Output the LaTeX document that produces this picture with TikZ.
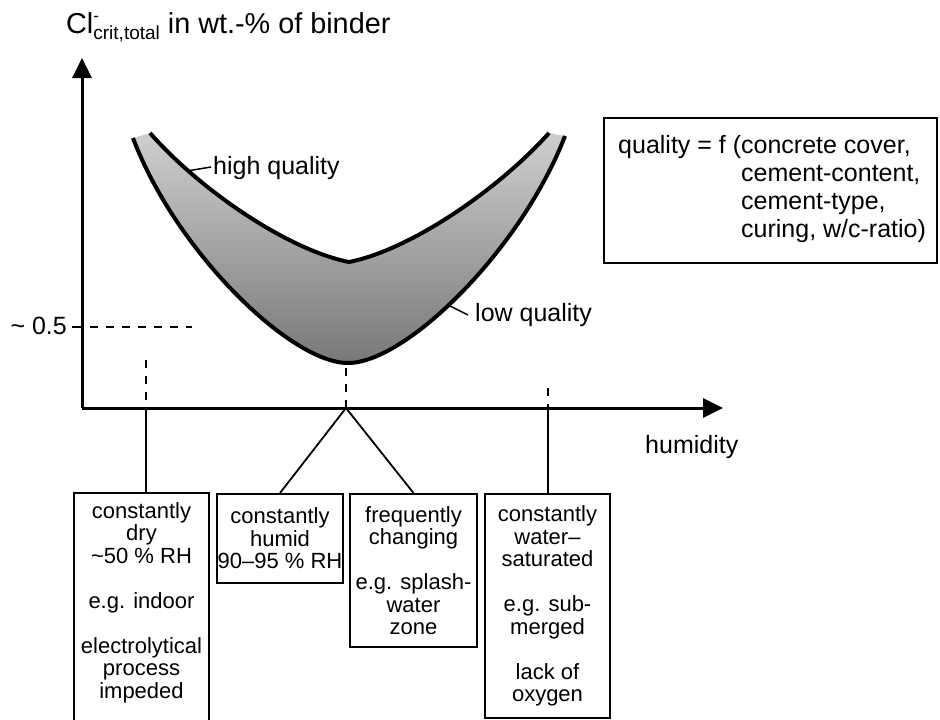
\documentclass[tikz,border=0pt]{standalone}
\usepackage{fontspec}
\setmainfont{Liberation Sans}
\usetikzlibrary{arrows.meta}
\tikzset{
  cbox/.style={draw, line width=1.8pt, align=center, inner xsep=0pt, anchor=north,
    font=\fontsize{22}{22.5}\selectfont},
  axisline/.style={line width=3pt, -{Triangle[length=20pt,width=19pt]}},
  curveline/.style={line width=4pt, line join=round},
  dashline/.style={line width=1.3pt, dash pattern=on 8pt off 8pt},
  conn/.style={line width=1.8pt},
  leader/.style={line width=1.5pt},
  lbl/.style={font=\fontsize{25}{28}\selectfont, inner sep=0pt}
}
\begin{document}
\begin{tikzpicture}[x=1pt,y=-1pt]
\useasboundingbox (0,0) rectangle (940,720);
% axes
\coordinate (O) at (82,408);
\coordinate (ytip) at (82,58);
\coordinate (xtip) at (723,408);
\draw[axisline] (O) -- (ytip);
\draw[axisline] (O) -- (xtip);
% title
\node[anchor=base west, inner sep=0pt, font=\fontsize{28.8}{32}\selectfont] (title) at (66,33)
  {Cl\rlap{\raisebox{12pt}{\fontsize{17}{17}\selectfont -}}\raisebox{-6pt}{\fontsize{19}{19}\selectfont crit,total} in wt.-\% of binder};
\node[lbl, anchor=base west] (hum) at (645,453) {humidity};
% 0.5 level
\coordinate (t05) at (82,327);
\coordinate (t05l) at (72,327);
\coordinate (t05r) at (192,327);
\node[lbl, anchor=base east] (v05) at (67,334) {\textasciitilde{} 0.5};
\draw[line width=1.3pt] (t05l) -- (t05);
\draw[dashline] ([xshift=8pt]t05) -- (t05r);
% band
\shade[top color=gray!38, bottom color=black!53]
  (133,138) .. controls (175,250) and (290,363) .. (348,363)
  .. controls (406,363) and (521,250) .. (565,136)
  -- (549,133) .. controls (498,190) and (410,250) .. (349,262)
  .. controls (288,250) and (200,190) .. (150,133) -- cycle;
\draw[curveline] (133,138) .. controls (175,250) and (290,363) .. (348,363)
  .. controls (406,363) and (521,250) .. (565,136);
\draw[curveline] (150,133) .. controls (200,190) and (288,250) .. (349,262)
  .. controls (410,250) and (498,190) .. (549,133);
% curve labels
\coordinate (hq) at (187,171);
\node[lbl, anchor=base west] (hql) at (213,174) {high quality};
\draw[leader] (hq) -- (211,167);
\coordinate (lq) at (450,306);
\node[lbl, anchor=base west] (lql) at (475,321) {low quality};
\draw[leader] (lq) -- (468,315);
% quality box
\node[draw, line width=1.8pt, anchor=north west, minimum width=333pt, minimum height=145pt]
  (qbox) at (603,117) {};
\node[anchor=west, align=left, inner sep=0pt, font=\fontsize{25}{28}\selectfont]
  (qtext) at ([xshift=15pt,yshift=1pt]qbox.west)
  {quality = f (concrete cover,\\
   \phantom{quality = f (}cement-content,\\
   \phantom{quality = f (}cement-type,\\
   \phantom{quality = f (}curing, w/c-ratio)};
% humidity points
\coordinate (p1) at (146,408);
\coordinate (p2) at (346,408);
\coordinate (p3) at (548,408);
\coordinate (p1t) at (146,360);
\coordinate (p2t) at (346,368);
\coordinate (p3t) at (548,388);
\draw[dashline] (p1t) -- (p1);
\draw[dashline] (p2t) -- (p2);
\draw[dashline] (p3t) -- (p3);
% boxes
\node[cbox, draw=none, minimum width=133pt, minimum height=217pt] (b1) at (141.5,493)
  {constantly\\dry\\\textasciitilde50 \% RH\\[22.5pt]e.g. indoor\\[22.5pt]electrolytical\\process\\impeded};
\draw[line width=1.8pt] ([yshift=-30pt]b1.south west) -- (b1.north west) -- (b1.north east) -- ([yshift=-30pt]b1.south east);
\node[cbox, minimum width=126pt, minimum height=89pt] (b2) at (280,493)
  {constantly\\humid\\90--95 \% RH};
\node[cbox, minimum width=127pt, minimum height=153pt] (b3) at (413.5,493)
  {frequently\\changing\\[22.5pt]e.g. splash-\\water\\zone};
\node[cbox, minimum width=125pt, minimum height=224pt] (b4) at (547.5,493)
  {constantly\\water--\\saturated\\[22.5pt]e.g. sub-\\merged\\[22.5pt]lack of\\oxygen};
% connectors
\draw[conn] (p1) -- (p1 |- b1.north);
\draw[conn] (p2) -- (b2.north);
\draw[conn] (p2) -- (b3.north);
\draw[conn] (p3) -- (p3 |- b4.north);
\end{tikzpicture}
\end{document}
